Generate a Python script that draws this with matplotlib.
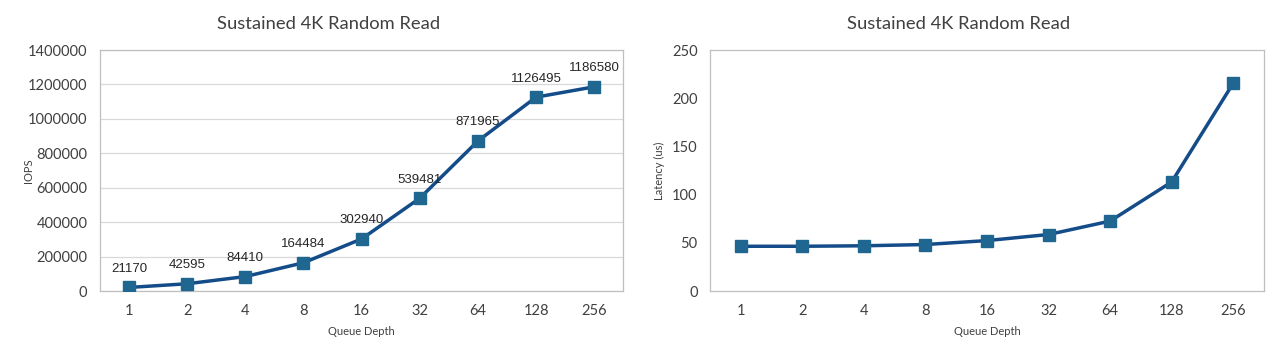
import numpy as np
import matplotlib.pyplot as plt

# Datos
queue_depth = ['1', '2', '4', '8', '16', '32', '64', '128', '256']
iops = [21170, 42595, 84410, 164484, 302940, 539481, 871965, 1126495, 1186580]
latency = [46.5, 46.5, 47.0, 48.3, 52.4, 58.7, 72.6, 113.2, 215.6]

line_color = '#134C88'
marker_color = '#1F6690'
tick_font = 'Lato'

fig = plt.figure(figsize=(12.8, 3.55), dpi=100)
ax1 = fig.add_axes([0.078, 0.180, 0.409, 0.679])
ax2 = fig.add_axes([0.5547, 0.180, 0.4328, 0.679])

x = np.arange(len(queue_depth))

for ax, vals, tx in [(ax1, iops, 0.437), (ax2, latency, 0.449)]:
    ax.plot(x, vals, color=line_color, lw=2.5, marker='s', markersize=8,
            markerfacecolor=marker_color, markeredgecolor=marker_color, zorder=3)
    ax.set_xlim(-0.5, len(queue_depth) - 0.5)
    ax.set_xticks(x)
    ax.set_xticklabels(queue_depth, fontfamily=tick_font, fontsize=10.5, color='#404040')
    ax.tick_params(length=0, pad=9)
    for sp in ax.spines.values():
        sp.set_color('#BFBFBF')
        sp.set_linewidth(0.9)
    ax.set_title('Sustained 4K Random Read', fontfamily=tick_font, fontsize=13.2,
                 color='#404040', pad=15, x=tx)
    ax.set_xlabel('Queue Depth', fontfamily=tick_font, fontsize=8, color='#404040', labelpad=6)

# IOPS
ax1.set_ylim(0, 1400000)
ax1.set_yticks(np.arange(0, 1400001, 200000))
ax1.set_yticklabels([str(v) for v in range(0, 1400001, 200000)],
                    fontfamily=tick_font, fontsize=10.5, color='#404040')
ax1.grid(axis='y', color='#D9D9D9', lw=0.9)
ax1.set_axisbelow(True)
ax1.set_ylabel('IOPS', fontfamily=tick_font, fontsize=8, color='#404040')
ax1.yaxis.set_label_coords(-0.125, 0.5)
for xi, v in zip(x, iops):
    ax1.annotate(str(v), (xi, v), xytext=(0, 9), textcoords='offset points',
                 ha='center', va='bottom', fontfamily='Liberation Sans',
                 fontsize=9.5, color='#262626')

# Latencia
ax2.set_ylim(0, 250)
ax2.set_yticks(range(0, 251, 50))
ax2.set_yticklabels([str(v) for v in range(0, 251, 50)],
                    fontfamily=tick_font, fontsize=10.5, color='#404040')
ax2.set_ylabel('Latency (us)', fontfamily=tick_font, fontsize=8, color='#404040')
ax2.yaxis.set_label_coords(-0.081, 0.5)

fig.savefig('out.png', dpi=100)
